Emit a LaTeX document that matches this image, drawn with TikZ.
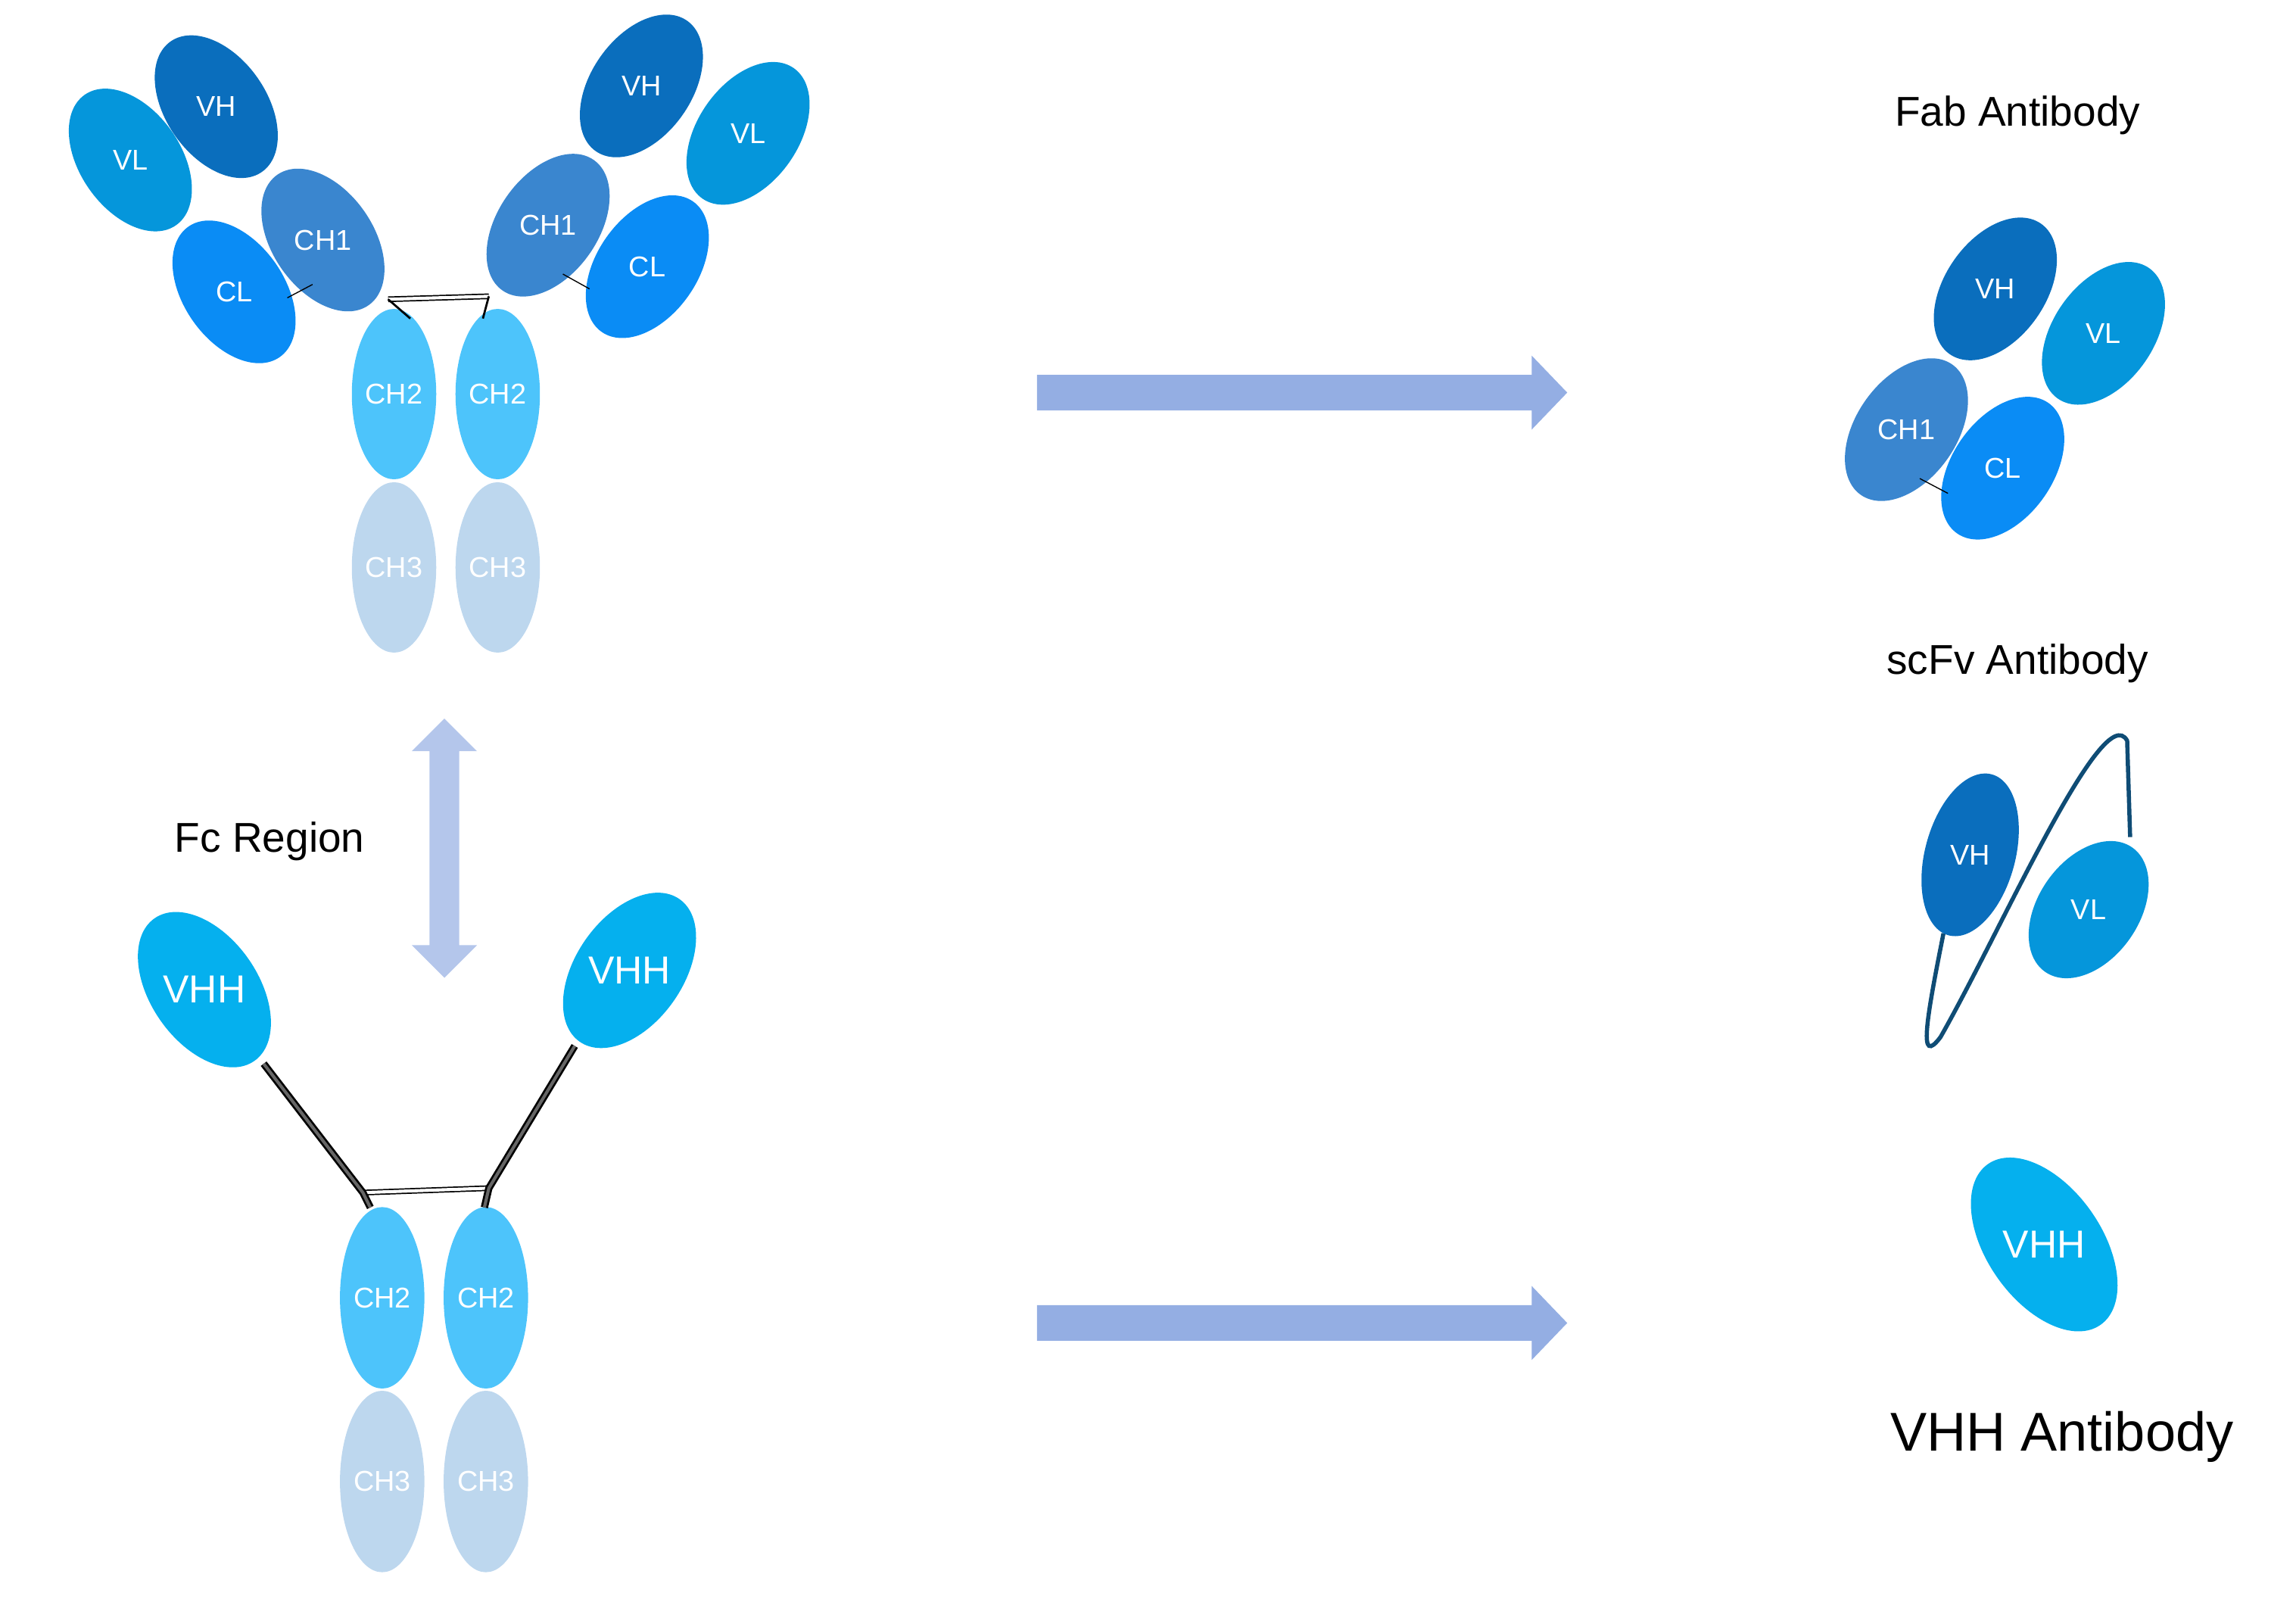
\documentclass[tikz,border=0pt]{standalone}
\usepackage{fontspec}
\setmainfont{Liberation Sans}
\usetikzlibrary{shapes.geometric,positioning}
\definecolor{cVH}{HTML}{0A6EBD}
\definecolor{cVL}{HTML}{0596DB}
\definecolor{cCH1}{HTML}{3A86CF}
\definecolor{cCL}{HTML}{0A8CF5}
\definecolor{cCH2}{HTML}{4DC4FB}
\definecolor{cCH3}{HTML}{BDD7EE}
\definecolor{cVHH}{HTML}{05B0EE}
\definecolor{cArr}{HTML}{94AEE3}
\definecolor{cLink}{HTML}{0F4C75}
\begin{document}
\begin{tikzpicture}[x=0.02cm,y=-0.02cm,
  dom/.style={ellipse,inner sep=0pt,outer sep=0pt,minimum width=1.36cm,minimum height=2.15cm,label={[text=white,font=\fontsize{11}{12}\selectfont]center:#1}},
  lft/.style={rotate=35},rgt/.style={rotate=-35},
  stem/.style={ellipse,inner sep=0pt,outer sep=0pt,minimum width=1.14cm,minimum height=2.3cm,label={[text=white,font=\fontsize{11}{12}\selectfont]center:#1}},
  big/.style={ellipse,inner sep=0pt,outer sep=0pt,minimum width=1.45cm,minimum height=2.35cm,fill=cVHH,label={[text=white,font=\fontsize{15}{16}\selectfont]center:VHH}},
  title/.style={font=\fontsize{16}{18}\selectfont},
  hinge/.style={black,double=white,double distance=1.2pt,line width=0.5pt}]
\useasboundingbox (0,0) rectangle (1550,1079);
% full antibody
\node[dom=VL,lft,fill=cVL] (lvl) at (88,108) {};
\node[dom=VH,lft,fill=cVH] (lvh) at (146,72) {};
\node[dom=CH1,lft,fill=cCH1] (lch1) at (218,162) {};
\node[dom=CL,lft,fill=cCL] (lcl) at (158,197) {};
\node[dom=CH1,rgt,fill=cCH1] (rch1) at (370,152) {};
\node[dom=VH,rgt,fill=cVH] (rvh) at (433,58) {};
\node[dom=VL,rgt,fill=cVL] (rvl) at (505,90) {};
\node[dom=CL,rgt,fill=cCL] (rcl) at (437,180) {};
\node[stem=CH2,fill=cCH2] (lch2) at (266,266) {};
\node[stem=CH2,fill=cCH2] (rch2) at (336,266) {};
\node[stem=CH3,fill=cCH3] (lch3) at (266,383) {};
\node[stem=CH3,fill=cCH3] (rch3) at (336,383) {};
\coordinate (h1) at (262,202); \coordinate (h2) at (330,200);
\draw[hinge] (h1) -- (h2);
\draw[thick] (h1) -- (277,215);
\draw[thick] (h2) -- (326,215);
\draw (194,201) -- (211,192);
\draw (380,185) -- (398,195);
% arrows
\coordinate (a1) at (700,265); \coordinate (a2) at (700,893);
\fill[cArr] (a1) ++(0,-12) -- ++(334,0) -- ++(0,-13) -- ++(24,25) -- ++(-24,25) -- ++(0,-13) -- ++(-334,0) -- cycle;
\fill[cArr] (a2) ++(0,-12) -- ++(334,0) -- ++(0,-13) -- ++(24,25) -- ++(-24,25) -- ++(0,-13) -- ++(-334,0) -- cycle;
\fill[cArr!70] (300,485) -- (322,507) -- (310,507) -- (310,638) -- (322,638) -- (300,660) -- (278,638) -- (290,638) -- (290,507) -- (278,507) -- cycle;
\node[title] (fc) at (182,568) {Fc Region};
% heavy chain antibody
\node[big,lft] (lvhh) at (138,668) {};
\node[big,rgt] (rvhh) at (425,655) {};
\node[stem=CH2,fill=cCH2,minimum height=2.45cm] (bch2a) at (258,876) {};
\node[stem=CH2,fill=cCH2,minimum height=2.45cm] (bch2b) at (328,876) {};
\node[stem=CH3,fill=cCH3,minimum height=2.45cm] (bch3a) at (258,1000) {};
\node[stem=CH3,fill=cCH3,minimum height=2.45cm] (bch3b) at (328,1000) {};
\coordinate (g1) at (245,805); \coordinate (g2) at (330,802);
\draw[hinge] (g1) -- (g2);
\draw[hinge,double=black!60,line width=0.8pt] (178,718) -- (g1) -- (250,815);
\draw[hinge,double=black!60,line width=0.8pt] (388,706) -- (g2) -- (327,815);
% fragments
\node[title] (fab) at (1362,78) {Fab Antibody};
\node[dom=VH,rgt,fill=cVH] (fvh) at (1347,195) {};
\node[dom=VL,rgt,fill=cVL] (fvl) at (1420,225) {};
\node[dom=CH1,rgt,fill=cCH1] (fch1) at (1287,290) {};
\node[dom=CL,rgt,fill=cCL] (fcl) at (1352,316) {};
\draw (1296,323) -- (1315,333);
\node[title] (scfv) at (1362,448) {scFv Antibody};
\draw[cLink,line width=1.6pt] (1312,630) .. controls (1300,690) and (1295,720) .. (1310,700) .. controls (1350,630) and (1420,470) .. (1436,500) -- (1438,565);
\node[dom=VH,fill=cVH,rotate=-15,minimum width=1.22cm,minimum height=2.25cm] (svh) at (1330,577) {};
\node[dom=VL,rgt,fill=cVL,minimum height=2.05cm] (svl) at (1410,614) {};
\node[big,lft,minimum width=1.55cm,minimum height=2.65cm] (vhh) at (1380,840) {};
\node[font=\fontsize{21}{24}\selectfont] (vhht) at (1392,970) {VHH Antibody};
\end{tikzpicture}
\end{document}
